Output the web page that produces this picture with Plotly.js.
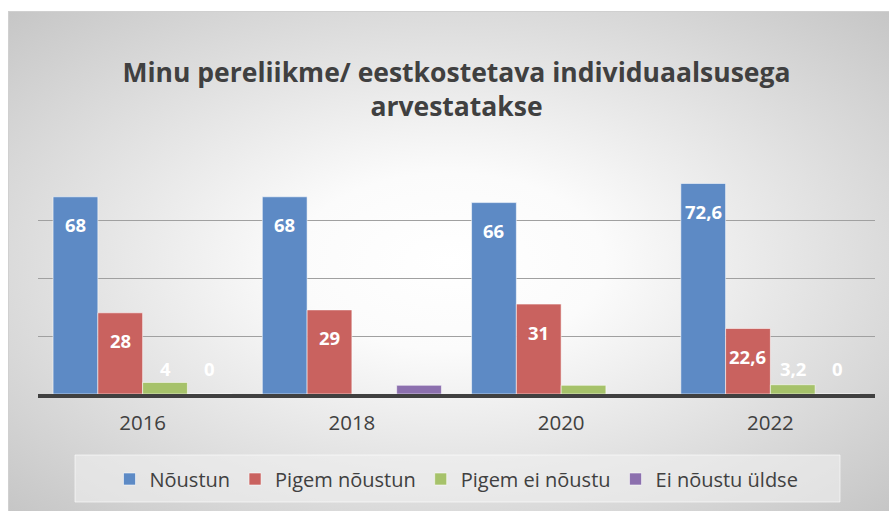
<!DOCTYPE html>
<html>
<head>
<meta charset="utf-8">
<script src="https://cdn.plot.ly/plotly-3.0.1.min.js"></script>
<style>
  html, body { margin: 0; padding: 0; background: #ffffff; width: 889px; height: 511px; overflow: hidden; }
  #bg { position: absolute; left: 8px; top: 11px; width: 881px; height: 500px;
        background: radial-gradient(ellipse farthest-corner at 50% 50%, #ffffff 0%, #fbfbfb 25%, #c6c6c6 100%);
        border-top: 1px solid #d0d0d0; border-left: 1px solid #d0d0d0; box-sizing: border-box; }
  #chart { position: absolute; left: 0; top: 0; width: 889px; height: 511px; }
</style>
</head>
<body>
<div id="bg"></div>
<div id="chart"></div>
<script>
// ---- data ----
const years = ['2016', '2018', '2020', '2022'];
const seriesNames = ['Nõustun', 'Pigem nõustun', 'Pigem ei nõustu', 'Ei nõustu üldse'];
const noustun = [68, 68, 66, 72.6];
const pigemNoustun = [28, 29, 31, 22.6];
const pigemEiNoustu = [4, null, 3, 3.2];
const eiNoustuUldse = [0, 3, null, 0];
// data labels shown in the chart (null = no label)
const labelsNoustun = [68, 68, 66, 72.6];
const labelsPigemNoustun = [28, 29, 31, 22.6];
const labelsPigemEiNoustu = [4, null, null, 3.2];
const labelsEiNoustuUldse = [0, null, null, 0];

const colors = ['#5d8ac5', '#c9625f', '#a6c26a', '#8c70ae'];
const allValues = [noustun, pigemNoustun, pigemEiNoustu, eiNoustuUldse];
const allLabels = [labelsNoustun, labelsPigemNoustun, labelsPigemEiNoustu, labelsEiNoustuUldse];

const bargap = 0.144;
const traces = allValues.map((vals, k) => ({
  type: 'bar',
  name: seriesNames[k],
  x: years,
  y: vals,
  marker: { color: colors[k], line: { color: 'rgba(255,255,255,0.55)', width: 1 } },
  hoverinfo: 'skip'
}));

// labels as annotations, placed through the axes from the arrays
const barW = (1 - bargap) / allValues.length;
const annotations = [];
allLabels.forEach((labs, k) => {
  labs.forEach((v, j) => {
    if (v === null) return;
    const small = v < 18.5;
    annotations.push({
      xref: 'x', yref: 'y',
      x: j + (k - (allValues.length - 1) / 2) * barW,
      y: small ? 0 : v,
      yshift: small ? 26 : -28,
      yanchor: 'middle', xanchor: 'center',
      text: String(v).replace('.', ','),
      showarrow: false,
      font: { family: 'Open Sans', size: 18.5, color: '#ffffff', weight: 'bold' }
    });
  });
});

const layout = {
  width: 889, height: 511,
  margin: { l: 38, r: 14, t: 162, b: 117 },
  paper_bgcolor: 'rgba(0,0,0,0)',
  plot_bgcolor: 'rgba(0,0,0,0)',
  barmode: 'group',
  bargap: bargap,
  bargroupgap: 0,
  font: { family: 'Open Sans', color: '#404040' },
  title: {
    text: '<b>Minu pereliikme/ eestkostetava individuaalsusega<br>arvestatakse</b>',
    font: { family: 'Open Sans', size: 26.5, color: '#404040' },
    x: 0.5, xanchor: 'center', xref: 'paper',
    y: 1 - 82 / 511, yanchor: 'middle', yref: 'container'
  },
  xaxis: {
    type: 'category',
    showline: true, linecolor: '#404040', linewidth: 3.5,
    ticks: '', ticklabelstandoff: 8,
    tickfont: { family: 'Open Sans', size: 20.5, color: '#404040' },
    showgrid: false, zeroline: false
  },
  yaxis: {
    range: [0, 80], dtick: 20, showticklabels: false,
    showgrid: true, gridcolor: '#a0a0a0', gridwidth: 1,
    zeroline: false, showline: false, ticks: ''
  },
  showlegend: true,
  legend: {
    orientation: 'h', x: 0.5, xanchor: 'center', xref: 'paper',
    y: 1 - 479 / 511, yanchor: 'middle', yref: 'container',
    font: { family: 'Open Sans', size: 20, color: '#404040' },
    bgcolor: 'rgba(0,0,0,0)', traceorder: 'normal'
  },
  shapes: [{
    type: 'rect', xref: 'paper', yref: 'paper', layer: 'below',
    x0: (75 - 38) / 837, x1: (840 - 38) / 837,
    y0: (394 - 455) / 232, y1: (394 - 502) / 232,
    fillcolor: 'rgba(240,240,240,0.6)', line: { color: 'rgba(255,255,255,0.6)', width: 1 }
  }],
  annotations: annotations
};

Plotly.newPlot('chart', traces, layout, { staticPlot: true, displayModeBar: false });
</script>
</body>
</html>
